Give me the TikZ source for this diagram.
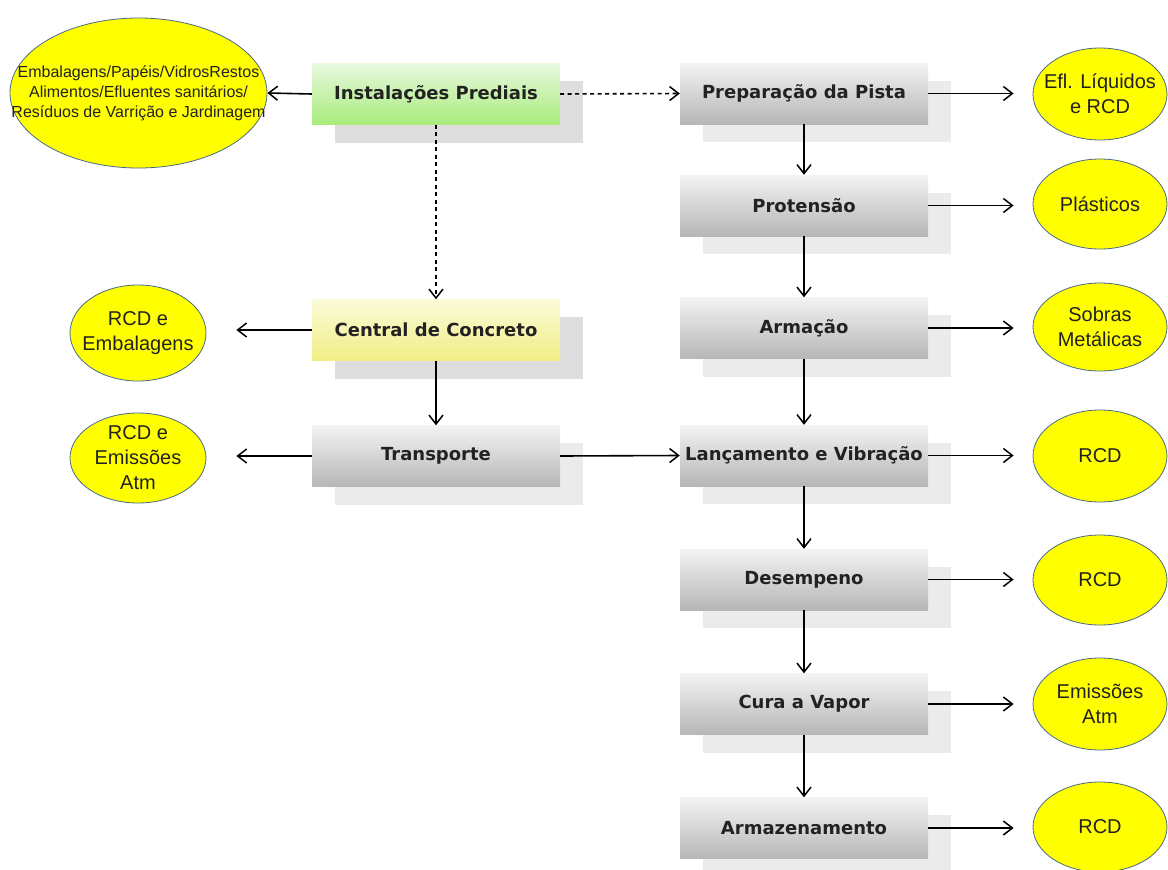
\documentclass[tikz,border=0pt]{standalone}
\usepackage{fontspec}
\setmainfont{Liberation Sans}
\newfontfamily\stepfont{DejaVu Sans}
\usetikzlibrary{shapes.geometric,arrows.meta,backgrounds}

\definecolor{grayTop}{HTML}{F3F3F3}
\definecolor{grayBot}{HTML}{B6B6B6}
\definecolor{greenTop}{HTML}{E8F8DE}
\definecolor{greenBot}{HTML}{A8EC7C}
\definecolor{yellowTop}{HTML}{FBFBDA}
\definecolor{yellowBot}{HTML}{F1EE84}
\definecolor{shadowA}{HTML}{DEDEDE}
\definecolor{shadowB}{HTML}{EBEBEB}
\definecolor{wasteFill}{HTML}{FFFF00}
\definecolor{wasteLine}{HTML}{4A6A88}
\definecolor{inkText}{HTML}{222222}

\tikzset{
  stepbox/.style={rectangle, minimum width=248pt, minimum height=61pt, inner sep=0pt,
    font=\stepfont\bfseries\fontsize{18}{22}\selectfont, text=inkText,
    top color=grayTop, bottom color=grayBot, draw=none},
  greenbox/.style={stepbox, top color=greenTop, bottom color=greenBot},
  yellowbox/.style={stepbox, top color=yellowTop, bottom color=yellowBot},
  waste/.style={ellipse, draw=wasteLine, line width=0.8pt, fill=wasteFill, inner sep=0pt},
  wtext/.style={align=center, font=\fontsize{20}{25}\selectfont, text=inkText, inner sep=0pt},
  flow/.style={draw=black, line width=1.6pt, -{Straight Barb[length=9pt,width=14pt,line width=1.5pt]}},
  dflow/.style={flow, dash pattern=on 4pt off 3.5pt},
}

\newcommand{\boxshadow}[2]{%
  \fill[#2] ([xshift=23pt,yshift=-18pt]#1.north west) rectangle ([xshift=23pt,yshift=-18pt]#1.south east);}

\begin{document}
\begin{tikzpicture}[x=1pt,y=-1pt]
\useasboundingbox (0,0) rectangle (1168,870);

% process steps, left column
\node[greenbox]  (inst) at (436,94)  {Instalações Prediais};
\node[yellowbox] (cc)   at (436,330) {Central de Concreto};
\node[stepbox]   (tr)   at (436,456) {Transporte};

% process steps, right column
\node[stepbox] (prep) at (804,93.5) {Preparação da Pista};
\node[stepbox] (prot) at (804,205.5) {Protensão};
\node[stepbox] (arm)  at (804,328)  {Armação};
\node[stepbox] (lanc) at (804,455.5) {Lançamento e Vibração};
\node[stepbox] (des)  at (804,579.5) {Desempeno};
\node[stepbox] (cura) at (804,704)  {Cura a Vapor};
\node[stepbox] (arz)  at (804,828)  {Armazenamento};

% page background and the shadows behind the boxes
\begin{scope}[on background layer]
  \fill[white] (0,0) rectangle (1168,870);
  \boxshadow{inst}{shadowA}
  \boxshadow{cc}{shadowA}
  \boxshadow{tr}{shadowB}
  \boxshadow{prep}{shadowB}
  \boxshadow{prot}{shadowB}
  \boxshadow{arm}{shadowB}
  \boxshadow{lanc}{shadowB}
  \boxshadow{des}{shadowB}
  \boxshadow{cura}{shadowB}
  \boxshadow{arz}{shadowB}
\end{scope}

% generated waste
\node[waste, minimum width=257pt, minimum height=150pt,
  label={[wtext, font=\fontsize{16}{20}\selectfont]center:Embalagens/Papéis/VidrosRestos\\Alimentos/Efluentes sanitários/\\Resíduos de Varrição e Jardinagem}]
  (wInst) at (138.5,93) {};
\node[waste, minimum width=136pt, minimum height=96pt,
  label={[wtext]center:RCD e\\Embalagens}] (wCc) at (138,333) {};
\node[waste, minimum width=136pt, minimum height=90pt,
  label={[wtext]center:RCD e\\Emissões\\Atm}] (wTr) at (138,458) {};

\node[waste, minimum width=134pt, minimum height=92pt,
  label={[wtext]center:Efl. Líquidos\\e RCD}] (wPrep) at (1100,94) {};
\node[waste, minimum width=134pt, minimum height=90pt,
  label={[wtext]center:Plásticos}] (wProt) at (1100,204) {};
\node[waste, minimum width=134pt, minimum height=88pt,
  label={[wtext]center:Sobras\\Metálicas}] (wArm) at (1100,327) {};
\node[waste, minimum width=134pt, minimum height=92pt,
  label={[wtext]center:RCD}] (wLanc) at (1100,456) {};
\node[waste, minimum width=134pt, minimum height=90pt,
  label={[wtext]center:RCD}] (wDes) at (1100,580) {};
\node[waste, minimum width=134pt, minimum height=92pt,
  label={[wtext]center:Emissões\\Atm}] (wCura) at (1100,704) {};
\node[waste, minimum width=134pt, minimum height=90pt,
  label={[wtext]center:RCD}] (wArz) at (1100,827) {};

% connectors
\draw[flow]  (inst.west) -- (wInst.east);
\draw[dflow] (inst.east) -- (prep.west);
\draw[dflow] (inst.south) -- (cc.north);
\draw[flow, shorten >=30pt] (cc.west) -- (cc.west -| wCc.east);
\draw[flow]  (cc.south) -- (tr.north);
\draw[flow, shorten >=30pt] (tr.west) -- (tr.west -| wTr.east);
\draw[flow]  (tr.east) -- (lanc.west);

\draw[flow] (prep.south) -- (prot.north);
\draw[flow] (prot.south) -- (arm.north);
\draw[flow] (arm.south) -- (lanc.north);
\draw[flow] (lanc.south) -- (des.north);
\draw[flow] (des.south) -- (cura.north);
\draw[flow] (cura.south) -- (arz.north);

\draw[flow, shorten >=19pt] (prep.east) -- (prep.east -| wPrep.west);
\draw[flow, shorten >=19pt] (prot.east) -- (prot.east -| wProt.west);
\draw[flow, shorten >=19pt] (arm.east)  -- (arm.east -| wArm.west);
\draw[flow, shorten >=19pt] (lanc.east) -- (lanc.east -| wLanc.west);
\draw[flow, shorten >=19pt] (des.east)  -- (des.east -| wDes.west);
\draw[flow, shorten >=19pt] (cura.east) -- (cura.east -| wCura.west);
\draw[flow, shorten >=19pt] (arz.east)  -- (arz.east -| wArz.west);
\end{tikzpicture}
\end{document}
